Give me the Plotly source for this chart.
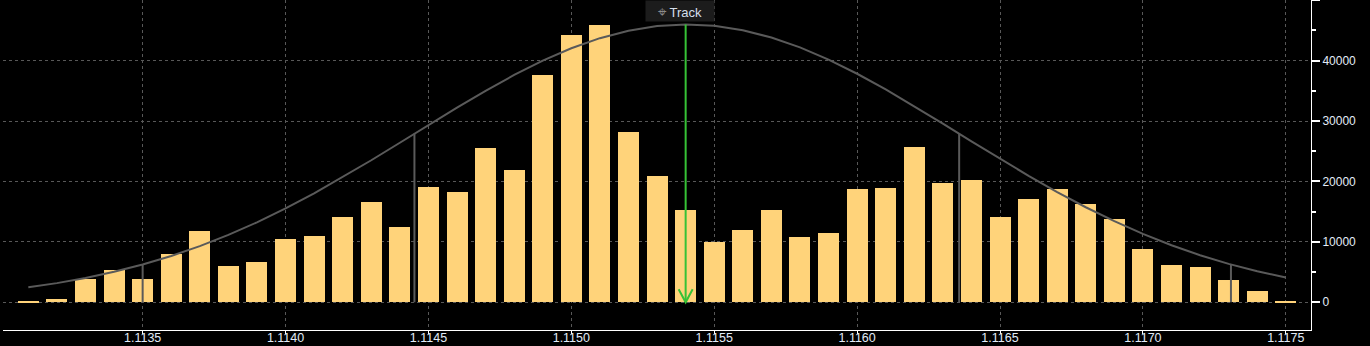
import plotly.graph_objects as go

# ---- data ----
prices = [round(1.1131 + 0.0001 * i, 4) for i in range(45)]
volumes = [200, 550, 3860, 5350, 3860, 8000, 11800, 6060, 6670, 10480,
           10980, 14120, 16600, 12470, 19090, 18260, 25550, 21900, 37630, 44250,
           45910, 28200, 20900, 15280, 10050, 11970, 15280, 10810, 11470, 18760,
           18920, 25710, 19750, 20250, 14120, 17100, 18760, 16270, 13790, 8820,
           6180, 5840, 3690, 1870, 200]
curve = [2480, 3170, 4020, 5040, 6250, 7670, 9300, 11160, 13240, 15540,
         18040, 20710, 23510, 26410, 29330, 32220, 35010, 37630, 40000, 42050,
         43720, 44960, 45730, 46000, 45770, 45040, 43830, 42200, 40170, 37830,
         35230, 32460, 29570, 26640, 23740, 20930, 18250, 15730, 13420, 11320,
         9440, 7790, 6360, 5130, 4090]
sigma_x = [1.1135, 1.114451, 1.116357, 1.117308]
sigma_y = [6250, 27900, 27900, 6250]
track_x = 1.1154
track_top = 46000
x_ticks = [1.1135, 1.1140, 1.1145, 1.1150, 1.1155, 1.1160, 1.1165, 1.1170, 1.1175]
x_labels = ["1.1135", "1.1140", "1.1145", "1.1150", "1.1155", "1.1160", "1.1165", "1.1170", "1.1175"]
y_ticks = [0, 10000, 20000, 30000, 40000, 50000]
y_labels = ["0", "10000", "20000", "30000", "40000", ""]

BAR = "#FFD37A"
GRAY = "#5a5a5a"
GREEN = "#36c236"
LABEL = "#e2ecf8"
GRID = "#585858"

fig = go.Figure()
fig.add_trace(go.Bar(x=prices, y=volumes, width=0.0000735, marker=dict(color=BAR, line=dict(width=0)),
                     hoverinfo="skip"))
fig.add_trace(go.Scatter(x=prices, y=curve, mode="lines", line=dict(color=GRAY, width=2),
                         hoverinfo="skip"))
for sx, sy in zip(sigma_x, sigma_y):
    fig.add_shape(type="line", x0=sx, x1=sx, y0=0, y1=sy, xref="x", yref="y",
                  line=dict(color=GRAY, width=2), layer="above")

# track arrow
fig.add_shape(type="line", x0=track_x, x1=track_x, y0=0, y1=track_top, xref="x", yref="y",
              line=dict(color=GREEN, width=2), layer="above")
fig.add_shape(type="path", xref="x", yref="y", xsizemode="pixel", ysizemode="pixel",
              xanchor=track_x, yanchor=0, path="M -7 13 L 0 0 L 7 13",
              line=dict(color=GREEN, width=2), layer="above")

fig.add_annotation(x=track_x, y=1, xref="x", yref="paper", xanchor="center", yanchor="top",
                   xshift=-6, yshift=0, showarrow=False, width=66, height=18, bgcolor="#1c1c1c",
                   text="<span style='color:#8a8a8a;font-size:15px'>⌖</span> Track",
                   font=dict(family="Liberation Sans, Arial", size=13, color="#d4deea"))

fig.update_layout(
    width=1370, height=346,
    margin=dict(l=3, r=59, t=0, b=16),
    paper_bgcolor="black", plot_bgcolor="black",
    showlegend=False, bargap=0,
    xaxis=dict(range=[1.1130114, 1.1175881], tickmode="array", tickvals=x_ticks, ticktext=x_labels,
               showgrid=True, gridcolor=GRID, griddash="dot", gridwidth=1, automargin=False,
               showline=True, linecolor="white", linewidth=1,
               ticks="outside", ticklen=3, tickcolor="white", zeroline=False,
               ticklabelstandoff=-7,
               tickfont=dict(family="Liberation Sans, Arial", size=12.5, color=LABEL)),
    yaxis=dict(range=[-4590, 50040], side="right", tickmode="array", tickvals=y_ticks, ticktext=y_labels,
               showgrid=True, gridcolor=GRID, griddash="dot", gridwidth=1, automargin=False,
               showline=True, linecolor="white", linewidth=1, zeroline=False,
               ticks="outside", ticklen=8, tickwidth=2, tickcolor="white",
               minor=dict(tickmode="linear", tick0=5000, dtick=10000, ticks="outside",
                          ticklen=4, tickcolor="white", showgrid=False),
               tickfont=dict(family="Liberation Sans, Arial", size=12, color=LABEL)),
)

fig.write_html("out.html")
